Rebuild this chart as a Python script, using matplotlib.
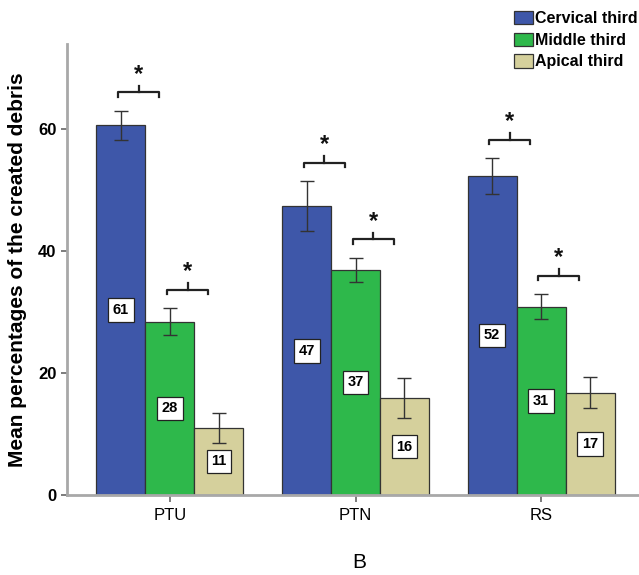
import matplotlib
matplotlib.use("Agg")
import matplotlib.pyplot as plt
import numpy as np

plt.rcParams['font.family'] = ['Liberation Sans', 'DejaVu Sans']

groups = ["PTU", "PTN", "RS"]
series_names = ["Cervical third", "Middle third", "Apical third"]
cervical = [60.6, 47.3, 52.3]
middle = [28.4, 36.9, 30.9]
apical = [11.0, 15.9, 16.8]
cervical_err = [2.4, 4.1, 2.9]
middle_err = [2.2, 2.0, 2.0]
apical_err = [2.5, 3.3, 2.6]
significant = [True, True, False]  # brackets over cervical and middle bars

colors = ["#3E57A9", "#2EB84B", "#D5D09C"]
values = [cervical, middle, apical]
errors = [cervical_err, middle_err, apical_err]

fig = plt.figure(figsize=(6.39, 5.75), dpi=100)
ax = fig.add_axes([67/639, 80/575, 572/639, 451.4/575])

x = np.arange(len(groups))
w = 0.264
offsets = [-w, 0, w]
handles = []
for s in range(3):
    xs = x + offsets[s]
    b = ax.bar(xs, values[s], width=w, color=colors[s], edgecolor="#333333",
               linewidth=0.9, zorder=2, label=series_names[s])
    handles.append(b)
    ax.errorbar(xs, values[s], yerr=errors[s], fmt='none', ecolor="#333333",
                elinewidth=1.0, capsize=5, capthick=1.0, zorder=3)
    for xi, v in zip(xs, values[s]):
        ax.text(xi, v / 2, f"{round(v):d}", ha='center', va='center',
                fontsize=10.5, fontweight='bold', zorder=4,
                bbox=dict(boxstyle='square,pad=0.33', fc='white', ec='#222222', lw=0.9))
    if significant[s]:
        for xi, v, e in zip(xs, values[s], errors[s]):
            yb = v + e + 3.0
            x0, x1 = xi - 0.015, xi + 0.205
            xm = (x0 + x1) / 2
            ax.plot([x0, x0, x1, x1], [yb - 0.7, yb, yb, yb - 0.7], color='#222222',
                    lw=1.6, solid_joinstyle='round', zorder=3)
            ax.plot([xm, xm], [yb, yb + 1.1], color='#222222', lw=1.6, zorder=3)
            ax.text(xm, yb + 1.1, "*", ha='center', va='bottom', fontsize=17,
                    fontweight='bold', color='#111111')

ax.set_xlim(-0.555, 2.528)
ax.set_ylim(0, 74)
ax.set_xticks(x)
ax.set_xticklabels(groups, fontsize=12)
ax.set_yticks([0, 20, 40, 60])
ax.set_yticklabels(["0", "20", "40", "60"], fontsize=12, fontweight='bold')
for sp in ["top", "right"]:
    ax.spines[sp].set_visible(False)
for sp in ["left", "bottom"]:
    ax.spines[sp].set_color("#A8A8A8")
    ax.spines[sp].set_linewidth(2)
ax.tick_params(axis='both', colors='#666666', length=4, width=1.2, labelcolor='black')
ax.tick_params(axis='x', length=5, pad=4)
ax.set_ylabel("Mean percentages of the created debris", fontsize=15,
              fontweight='bold', labelpad=8)

fig.legend(handles=handles, labels=series_names, loc='upper left',
           bbox_to_anchor=(511/639, 1 - 8/575), frameon=False,
           prop={'weight': 'bold', 'size': 11.5}, handlelength=1.15, handleheight=0.9,
           handletextpad=0.15, labelspacing=0.4, borderaxespad=0, borderpad=0.2)

fig.text(359/639, 1 - 562/575, "B", ha='center', va='center', fontsize=15)

fig.savefig("out.png", dpi=100)
